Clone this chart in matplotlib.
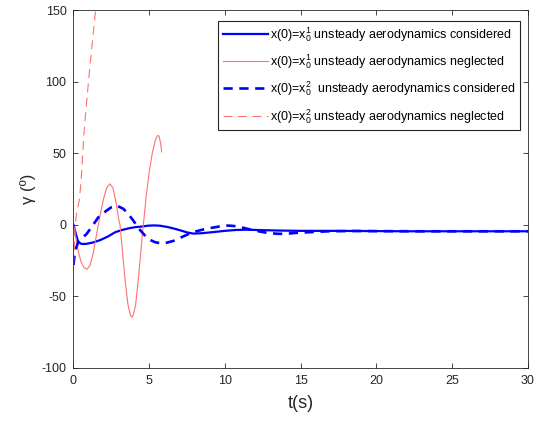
import matplotlib
matplotlib.use('Agg')
import matplotlib.pyplot as plt

plt.rcParams['font.family'] = ['Liberation Sans', 'DejaVu Sans']
plt.rcParams['mathtext.default'] = 'regular'
plt.rcParams['axes.unicode_minus'] = False

# x(0)=x0^1, unsteady aerodynamics considered
t_c1 = [0, 0.1, 0.2, 0.32, 0.5, 0.65, 0.9, 1.3, 1.8, 2.3, 2.74, 3.2, 3.7, 4.1, 4.5,
        4.9, 5.3, 5.7, 6.2, 6.7, 7.1, 7.5, 7.9, 8.4, 9.2, 10.0, 10.7, 11.4, 12.5,
        13.6, 15.0, 17.0, 19.0, 22.0, 25.0, 28.0, 30.0]
g_c1 = [0, -4, -8, -12, -13.2, -13.4, -13.2, -12.3, -10.5, -8.0, -5.2, -3.6, -2.3, -1.6, -1.2,
        -0.6, -0.4, -0.6, -1.5, -2.8, -4.0, -5.3, -6.1, -5.9, -5.1, -4.2, -3.6, -3.4, -3.7,
        -4.0, -4.2, -4.2, -4.3, -4.5, -4.5, -4.5, -4.5]

# x(0)=x0^1, unsteady aerodynamics neglected
t_n1 = [0, 0.1, 0.2, 0.35, 0.5, 0.7, 0.9, 1.1, 1.3, 1.5, 1.64, 1.8, 2.0, 2.2, 2.4,
        2.6, 2.8, 3.0, 3.07, 3.2, 3.4, 3.6, 3.75, 3.85, 3.95, 4.1, 4.3, 4.45, 4.61,
        4.8, 5.0, 5.2, 5.4, 5.55, 5.65, 5.75, 5.82]
g_n1 = [0, -5, -12, -20, -26, -30, -31, -28, -20, -8, 0, 9, 19, 26, 28.6,
        26, 16, 3, 0, -15, -38, -56, -63, -64.5, -63, -56, -36, -18, 0,
        20, 37, 50, 59, 62.4, 62, 57, 51]

# x(0)=x0^2, unsteady aerodynamics considered
t_c2 = [0, 0.1, 0.32, 0.6, 0.87, 1.2, 1.64, 2.19, 2.5, 2.85, 3.29, 3.6, 3.95, 4.3, 4.72,
        5.05, 5.38, 5.7, 6.04, 6.6, 7.14, 7.6, 8.0, 8.5, 9.0, 9.6, 10.2, 10.8, 11.3,
        11.9, 12.5, 13.0, 13.6, 14.2, 14.7, 15.8, 16.9, 18.5, 20.0, 23.0, 26.0, 30.0]
g_c2 = [-28, -18, -12, -9, -6.3, -1.5, 5.3, 10, 12.3, 13.5, 11.2, 7.8, 3, -2.5, -7.5,
        -10.5, -12.1, -12.8, -12.8, -11.2, -8.6, -6.4, -4.8, -3.4, -2.3, -1.2, -0.5, -1.0, -2.3,
        -3.8, -5.1, -5.9, -6.3, -6.1, -5.6, -5.0, -4.5, -4.3, -4.4, -4.5, -4.5, -4.5]

# x(0)=x0^2, unsteady aerodynamics neglected
t_n2 = [0, 0.1, 0.2, 0.38, 0.5, 0.69, 0.85, 1.08, 1.25, 1.43, 1.47]
g_n2 = [-28, -2, 8, 17, 30, 64, 84, 110, 128, 147, 150]

labels = [r'x(0)=x$_0^1$ unsteady aerodynamics considered',
          r'x(0)=x$_0^1$ unsteady aerodynamics neglected',
          r'x(0)=x$_0^2$  unsteady aerodynamics considered',
          r'x(0)=x$_0^2$ unsteady aerodynamics neglected']

fig = plt.figure(figsize=(5.42, 4.22), dpi=100)
ax = fig.add_axes([0.1356, 0.128, 0.8385, 0.848])

red = '#ff7070'
ax.plot(t_c1, g_c1, color='#0000ff', linewidth=1.6, label=labels[0])
ax.plot(t_n1, g_n1, color=red, linewidth=0.8, label=labels[1])
ax.plot(t_c2, g_c2, color='#0000ff', linewidth=1.9, linestyle=(0, (3.5, 2.5)), label=labels[2])
ax.plot(t_n2, g_n2, color=red, linewidth=0.8, linestyle=(0, (8, 5)), label=labels[3])

ax.set_xlim(0, 30)
ax.set_ylim(-100, 150)
ax.set_xticks(range(0, 31, 5))
ax.set_yticks(range(-100, 151, 50))
ax.tick_params(direction='in', top=True, right=True, labelsize=9,
               colors='#262626', length=3.5, width=0.6, pad=5)
for side in ax.spines.values():
    side.set_color('#262626')
    side.set_linewidth(0.6)

ax.set_xlabel('t(s)', fontsize=13, color='#262626', labelpad=6)
ax.set_ylabel('γ (º)', fontsize=12, color='#262626', labelpad=4)

leg = ax.legend(loc='upper right', bbox_to_anchor=(0.982, 0.97), fontsize=9,
                fancybox=False, edgecolor='#262626', framealpha=1,
                handlelength=3.6, handletextpad=0.2, borderpad=0.35,
                labelspacing=0.68, borderaxespad=0)
leg.get_frame().set_linewidth(0.8)

fig.savefig('out.png', dpi=100)
